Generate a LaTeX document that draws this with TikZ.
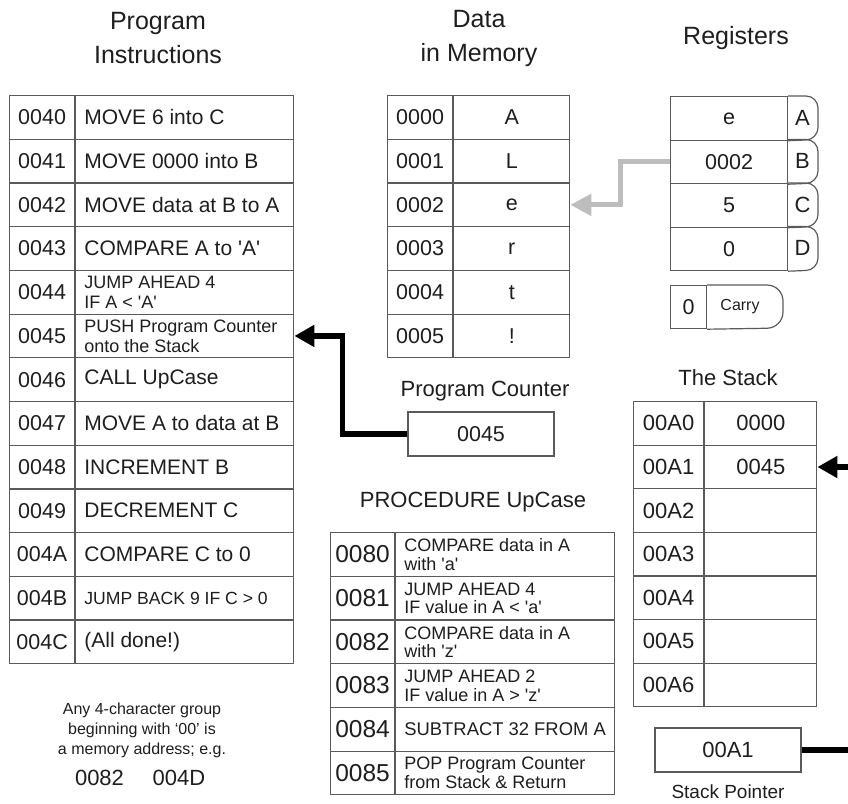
\documentclass[tikz,border=0pt]{standalone}
\usepackage{fontspec}
\setmainfont{Liberation Sans}[Ligatures=TeXOff]
\usetikzlibrary{arrows.meta}
\definecolor{bord}{HTML}{5A5A5A}
\definecolor{ink}{HTML}{1E1E1E}
\definecolor{grayarrow}{HTML}{BDBDBD}
\newcommand\fs[2]{\fontsize{#1}{#2}\selectfont}
% program / procedure rows: [font]{name}{x-left}{y-top}{addr width}{text width}{addr}{text}
\newcommand\tabrow[8][\fs{21}{24}]{%
  \node[cellbox, minimum width=#5, minimum height=43.7] (#2a) at (#3,#4) {#7};
  \node[cellbox, minimum width=#6, minimum height=43.7] (#2t) at (#2a.north east) {};
  \node[celltext, font=#1] (#2x) at ([xshift=9pt]#2t.west) {#8};}
\newcommand\regrow[4]{% name, y-top, value, letter
  \node[cellbox, minimum width=117, minimum height=43.5] (#1v) at (670,#2) {#3};
  \draw[cellline, rounded corners=12pt] (#1v.north east) -- (818,#2) -- (818,#2+43.5) -- (#1v.south east);
  \node[plaintext] (#1l) at (802.5,#2+21.75) {#4};}
\begin{document}
\begin{tikzpicture}[x=1pt,y=-1pt,
  cellline/.style={draw=bord, line width=1.2pt},
  cellbox/.style={cellline, inner sep=0pt, anchor=north west, text=ink, font=\fs{21.5}{24}},
  celltext/.style={anchor=west, align=left, inner sep=0pt, text=ink},
  plaintext/.style={inner sep=0pt, text=ink, font=\fs{22}{26}},
  titletext/.style={inner sep=0pt, text=ink, align=center, font=\fs{25}{34}},
  thickarrow/.style={line width=5.5pt, draw=black, -{Triangle[length=20pt,width=21pt]}},
  grayline/.style={line width=5pt, draw=grayarrow, -{Triangle[length=21pt,width=21pt]}}
]
\useasboundingbox (0,0) rectangle (848,803);

% titles
\node[titletext] (tprog) at (158,38) {Program\\Instructions};
\node[titletext] (tdata) at (479,38) {Data\\in Memory};
\node[titletext] (treg) at (736,38) {Registers};

% program instructions
\tabrow{p0}{9}{95}{65}{218}{0040}{MOVE 6 into C}
\tabrow{p1}{9}{138.7}{65}{218}{0041}{MOVE 0000 into B}
\tabrow{p2}{9}{182.4}{65}{218}{0042}{MOVE data at B to A}
\tabrow{p3}{9}{226.1}{65}{218}{0043}{COMPARE A to 'A'}
\tabrow[\fs{18}{20}]{p4}{9}{269.8}{65}{218}{0044}{JUMP AHEAD 4\\IF A < 'A'}
\tabrow[\fs{18}{20}]{p5}{9}{313.5}{65}{218}{0045}{PUSH Program Counter\\onto the Stack}
\tabrow{p6}{9}{357.2}{65}{218}{0046}{CALL UpCase}
\tabrow{p7}{9}{400.9}{65}{218}{0047}{MOVE A to data at B}
\tabrow{p8}{9}{444.6}{65}{218}{0048}{INCREMENT B}
\tabrow{p9}{9}{488.3}{65}{218}{0049}{DECREMENT C}
\tabrow{pA}{9}{532.0}{65}{218}{004A}{COMPARE C to 0}
\tabrow[\fs{17.6}{20}]{pB}{9}{575.7}{65}{218}{004B}{JUMP BACK 9 IF C > 0}
\tabrow{pC}{9}{619.4}{65}{218}{004C}{(All done!)}

% data in memory
\foreach \ad/\v [count=\i from 0] in {0000/A,0001/L,0002/e,0003/r,0004/t,0005/!}{
  \node[cellbox, minimum width=65, minimum height=43.7] (m\i a) at (387,95+43.7*\i) {\ad};
  \node[cellbox, minimum width=116, minimum height=43.7] (m\i v) at (m\i a.north east) {\v};
}

% registers
\regrow{rA}{96}{e}{A}
\regrow{rB}{139.5}{0002}{B}
\regrow{rC}{183}{5}{C}
\regrow{rD}{226.5}{0}{D}

% carry
\node[cellbox, minimum width=36, minimum height=43] (cv) at (670,285) {0};
\draw[cellline, rounded corners=16pt] (cv.north east) -- (783,285) -- (783,328) -- (cv.south east);
\node[inner sep=0pt, text=ink, font=\fs{16}{18}] (cl) at (740,306.5) {Carry};

% gray pointer arrow B -> 0002
\draw[grayline] (rBv.west) -- ++(-50,0) |- (m2v.east);

% program counter
\node[plaintext] (pclab) at (485,391) {Program Counter};
\node[cellbox, anchor=center, minimum width=146, minimum height=44] (pc) at (481,434) {0045};
\draw[thickarrow] (pc.west) -- ++(-65,0) |- (p5t.east);

% procedure
\node[plaintext] (proclab) at (473,502) {PROCEDURE UpCase};
\tabrow[\fs{18}{18.5}]{q0}{330}{532}{64}{219}{\fs{24.5}{26}0080}{COMPARE data in A\\with 'a'}
\tabrow[\fs{18}{18.5}]{q1}{330}{575.7}{64}{219}{\fs{24.5}{26}0081}{JUMP AHEAD 4\\IF value in A < 'a'}
\tabrow[\fs{18}{18.5}]{q2}{330}{619.4}{64}{219}{\fs{24.5}{26}0082}{COMPARE data in A\\with 'z'}
\tabrow[\fs{18}{18.5}]{q3}{330}{663.1}{64}{219}{\fs{24.5}{26}0083}{JUMP AHEAD 2\\IF value in A > 'z'}
\tabrow[\fs{18.4}{20}]{q4}{330}{706.8}{64}{219}{\fs{24.5}{26}0084}{SUBTRACT 32 FROM A}
\tabrow[\fs{18}{18.5}]{q5}{330}{750.5}{64}{219}{\fs{24.5}{26}0085}{POP Program Counter\\from Stack \& Return}

% the stack
\node[plaintext] (stlab) at (728,378) {The Stack};
\foreach \ad/\v [count=\i from 0] in {00A0/0000,00A1/0045,00A2/,00A3/,00A4/,00A5/,00A6/}{
  \node[cellbox, minimum width=70, minimum height=43.6, font=\fs{22}{24}] (s\i a) at (633,401+43.6*\i) {\ad};
  \node[cellbox, minimum width=112, minimum height=43.6, font=\fs{22}{24}] (s\i v) at (s\i a.north east) {\v};
}

% stack pointer
\node[cellbox, anchor=center, minimum width=146, minimum height=44, font=\fs{22}{24}] (sp) at (728,750) {00A1};
\node[inner sep=0pt, text=ink, font=\fs{19}{22}] (splab) at (728,792) {Stack Pointer};
\draw[thickarrow] (sp.east) -- ++(49,0) |- (s1v.east);

% note
\node[inner sep=0pt, text=ink, align=center, font=\fs{16}{20}] (note) at (142,730) {Any 4-character group\\beginning with ‘00’ is\\a memory address; e.g.};
\node[plaintext] (ex1) at (99.5,778) {0082};
\node[plaintext] (ex2) at (179,778) {004D};
\end{tikzpicture}
\end{document}
